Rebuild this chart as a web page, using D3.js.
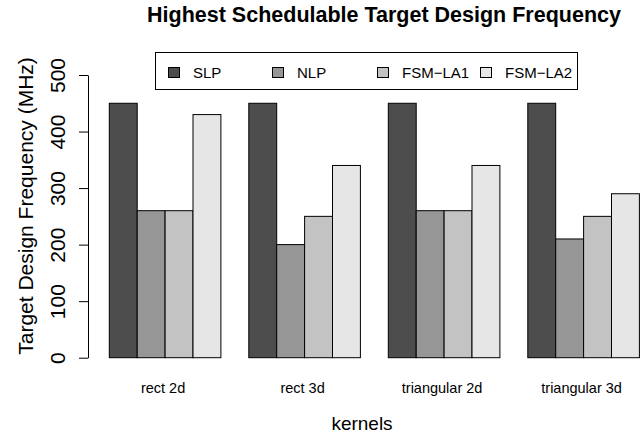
<!DOCTYPE html>
<html>
<head>
<meta charset="utf-8">
<script src="https://cdn.jsdelivr.net/npm/d3@7"></script>
<style>
  html, body { margin: 0; padding: 0; background: #fff; }
  svg { display: block; font-family: "Liberation Sans", Arial, Helvetica, sans-serif; }
</style>
</head>
<body>
<svg id="chart" width="640" height="436"></svg>
<script>
// ---- data ----
const categories = ["rect 2d", "rect 3d", "triangular 2d", "triangular 3d"];
const seriesNames = ["SLP", "NLP", "FSM\u2212LA1", "FSM\u2212LA2"];
const SLP    = [450, 450, 450, 450];
const NLP    = [260, 200, 260, 210];
const FSMLA1 = [260, 250, 260, 250];
const FSMLA2 = [430, 340, 340, 290];
const yTicks = [0, 100, 200, 300, 400, 500];
const colors = ["#4d4d4d", "#969696", "#c3c3c3", "#e6e6e6"];

const seriesValues = [SLP, NLP, FSMLA1, FSMLA2];
const rows = categories.map((c, ci) => ({
  cat: c,
  vals: seriesNames.map((s, si) => ({ key: s, si, value: seriesValues[si][ci] }))
}));

const svg = d3.select("#chart");

// ---- scales ----
const x0 = d3.scaleBand().domain(categories).range([109.3, 639.4]).paddingInner(0.2).paddingOuter(0);
const x1 = d3.scaleBand().domain(seriesNames).range([0, x0.bandwidth()]);
const y = d3.scaleLinear().domain([0, 500]).range([357.7, 75]);

// ---- bars ----
const g = svg.append("g");
g.selectAll("g.grp").data(rows).join("g")
  .attr("class", "grp")
  .attr("transform", d => `translate(${x0(d.cat)},0)`)
  .selectAll("rect").data(d => d.vals).join("rect")
  .attr("x", d => x1(d.key))
  .attr("y", d => y(d.value))
  .attr("width", x1.bandwidth())
  .attr("height", d => y(0) - y(d.value))
  .attr("fill", d => colors[d.si])
  .attr("stroke", "#000")
  .attr("stroke-width", 1);

// ---- y axis ----
const yAxis = d3.axisLeft(y).tickValues(yTicks).tickSize(9).tickSizeOuter(0).tickPadding(0);
const ya = svg.append("g").attr("transform", "translate(88,0)").call(yAxis);
ya.select(".domain").attr("stroke", "#000");
ya.selectAll(".tick line").attr("stroke", "#000");
ya.selectAll(".tick text")
  .attr("x", 0).attr("dy", null)
  .attr("text-anchor", "middle")
  .attr("transform", "translate(-23,0) rotate(-90)")
  .attr("font-size", 21)
  .attr("font-family", "Liberation Sans, Arial, sans-serif")
  .attr("fill", "#000");

// ---- category labels ----
svg.append("g").selectAll("text").data(categories).join("text")
  .attr("x", d => x0(d) + x0.bandwidth() / 2 - 2)
  .attr("y", 393)
  .attr("text-anchor", "middle")
  .attr("font-size", 14.5)
  .text(d => d);

// ---- axis titles ----
svg.append("text")
  .attr("transform", "translate(33,206) rotate(-90)")
  .attr("text-anchor", "middle")
  .attr("font-size", 21)
  .text("Target Design Frequency (MHz)");

svg.append("text")
  .attr("x", 362).attr("y", 430)
  .attr("text-anchor", "middle")
  .attr("font-size", 19)
  .text("kernels");

svg.append("text")
  .attr("x", 384).attr("y", 22)
  .attr("text-anchor", "middle")
  .attr("font-size", 21.5)
  .attr("font-weight", "bold")
  .text("Highest Schedulable Target Design Frequency");

// ---- legend ----
const legendX = [168, 272, 377, 480];
const leg = svg.append("g");
leg.append("rect").attr("x", 155.5).attr("y", 52.5).attr("width", 422).attr("height", 37)
  .attr("fill", "#fff").attr("stroke", "#000");
const li = leg.selectAll("g.li").data(seriesNames).join("g").attr("class", "li")
  .attr("transform", (d, i) => `translate(${legendX[i]},0)`);
li.append("rect").attr("x", 0.5).attr("y", 67.5).attr("width", 11).attr("height", 10)
  .attr("fill", (d, i) => colors[i]).attr("stroke", "#000");
li.append("text").attr("x", 25).attr("y", 78).attr("font-size", 15).text(d => d);
</script>
</body>
</html>
